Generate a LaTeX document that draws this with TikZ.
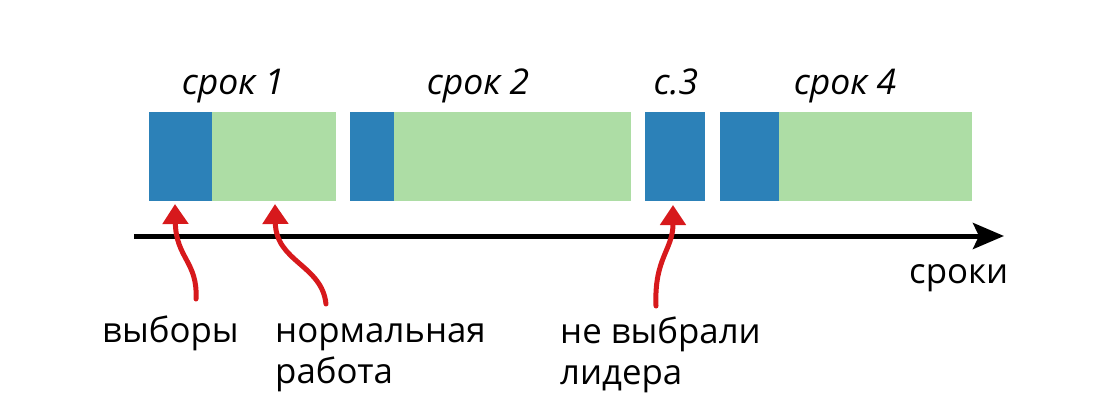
\documentclass[tikz,border=0pt]{standalone}
\usepackage{fontspec}
\setmainfont{Open Sans}
\usetikzlibrary{arrows.meta}
\definecolor{elect}{HTML}{2C81B8}
\definecolor{work}{HTML}{ADDDA5}
\definecolor{redarr}{HTML}{D7191C}
\tikzset{
  elbox/.style={fill=elect, draw=none},
  wkbox/.style={fill=work, draw=none},
  termlbl/.style={font=\fontsize{35.5}{41}\selectfont\itshape, anchor=base, inner sep=0pt},
  txt/.style={font=\fontsize{34.8}{41}\selectfont, anchor=base west, inner sep=0pt},
  redptr/.style={draw=redarr, line width=5pt, line cap=round, -{Triangle[length=20pt,width=25pt]}},
  axis/.style={draw=black, line width=5pt, -{Stealth[length=31pt,width=26pt,inset=6pt]}}
}
\begin{document}
\begin{tikzpicture}[x=1pt,y=-1pt]
\useasboundingbox (0,0) rectangle (1116,412);
% term 1
\path[elbox] (149,112) rectangle (212,201);
\path[wkbox] (212,112) rectangle (336,201);
% term 2
\path[elbox] (350,112) rectangle (394,201);
\path[wkbox] (394,112) rectangle (631,201);
% term 3
\path[elbox] (645,112) rectangle (705,201);
% term 4
\path[elbox] (720,112) rectangle (779,201);
\path[wkbox] (779,112) rectangle (972,201);
% labels
\node[termlbl] (t1) at (233,95) {срок 1};
\node[termlbl] (t2) at (478,95) {срок 2};
\node[termlbl] (t3) at (676,95) {с.3};
\node[termlbl] (t4) at (845,95) {срок 4};
% axis
\coordinate (a0) at (134,236);
\coordinate (a1) at (1004,236);
\draw[axis] (a0) -- (a1);
\node[txt] (terms) at (909,283) {сроки};
% bottom texts
\node[txt] (el) at (102,342) {выборы};
\node[txt] (nw1) at (275,342) {нормальная};
\node[txt] (nw2) at (275,383) {работа};
\node[txt] (nl1) at (560,343) {не выбрали};
\node[txt] (nl2) at (560,384) {лидера};
% pointers
\coordinate (p1s) at (196,299);
\coordinate (p1e) at (175,204);
\coordinate (p2s) at (326,304);
\coordinate (p2e) at (275,204);
\coordinate (p3s) at (656,306);
\coordinate (p3e) at (673,205);
\draw[redptr] (p1s) .. controls (198,262) and (176,258) .. (p1e);
\draw[redptr] (p2s) .. controls (322,265) and (276,262) .. (p2e);
\draw[redptr] (p3s) .. controls (654,258) and (673,250) .. (p3e);
\end{tikzpicture}
\end{document}
